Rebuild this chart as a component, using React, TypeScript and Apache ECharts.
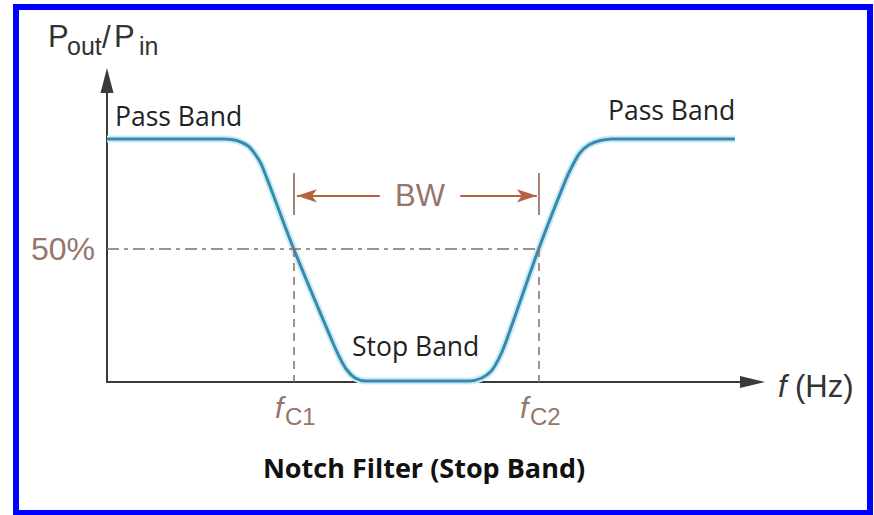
import React, { useEffect, useRef } from 'react';
import * as echarts from 'echarts';

// Response curve (frequency in arbitrary units, Pout/Pin in %)
const curveX = [0, 18.6, 20.5, 22.3, 23.5, 24.5, 29.5, 35.5, 36.8, 37.9, 39.2, 40.8, 57.3, 59.2, 60.7, 61.8, 62.9, 68.2, 72.4, 73.5, 74.7, 76.1, 77.9, 79.8, 99.2];
const curveY = [91.4, 91.4, 90.8, 88.7, 85.3, 81.2, 50, 15.8, 9.0, 4.5, 1.5, 0.4, 0.4, 1.5, 4.1, 8.3, 14.3, 50, 75.6, 81.2, 86.1, 89.1, 90.8, 91.4, 91.4];

const fc1 = 29.5;
const fc2 = 68.2;
const halfLevel = 50;
const bwTick = [62.8, 78.6];
const bwArrowY = 70;
const bwLeftArrow = [43.1, 30.0];
const bwRightArrow = [55.8, 67.9];

const xRange = [0, 100];
const yRange = [0, 110];

const curveData = curveX.map((x, i) => [x, curveY[i]]);

const brownGray = '#8c6f62';
const arrowBrown = '#b3633f';
const labelBrown = '#94766a';

export default function App() {
  const ref = useRef<HTMLDivElement>(null);
  useEffect(() => {
    document.body.style.margin = '0';
    const chart = echarts.init(ref.current!, null, { renderer: 'svg' });
    const arial = 'Liberation Sans, Arial, sans-serif';
    const calibri = 'Open Sans, sans-serif';
    chart.setOption({
      animation: false,
      backgroundColor: '#ffffff',
      grid: { left: 107, right: 134, top: 89.4, bottom: 133 },
      xAxis: {
        type: 'value', min: xRange[0], max: xRange[1],
        axisLine: { show: true, symbol: ['none', 'triangle'], symbolSize: [12, 25], symbolOffset: [0, 12.5], lineStyle: { color: '#3a3a3a', width: 2 } },
        axisTick: { show: false }, axisLabel: { show: false }, splitLine: { show: false },
      },
      yAxis: {
        type: 'value', min: yRange[0], max: yRange[1],
        axisLine: { show: true, symbol: ['none', 'triangle'], symbolSize: [13, 25], symbolOffset: [0, 8.9], lineStyle: { color: '#3a3a3a', width: 2 } },
        axisTick: { show: false }, axisLabel: { show: false }, splitLine: { show: false },
      },
      series: [
        {
          type: 'line', data: [], silent: true,
          markLine: {
            silent: true, symbol: 'none', label: { show: false },
            data: [
              [{ coord: [xRange[0], halfLevel], lineStyle: { type: [12, 5, 4, 5], color: brownGray, width: 1.5 } }, { coord: [fc2, halfLevel] }],
              [{ coord: [fc1, halfLevel], lineStyle: { type: [8, 6], color: brownGray, width: 1.5 } }, { coord: [fc1, 0] }],
              [{ coord: [fc2, halfLevel], lineStyle: { type: [8, 6], color: brownGray, width: 1.5 } }, { coord: [fc2, 0] }],
              [{ coord: [fc1, bwTick[0]], lineStyle: { type: 'solid', color: '#8a5a48', width: 1.5 } }, { coord: [fc1, bwTick[1]] }],
              [{ coord: [fc2, bwTick[0]], lineStyle: { type: 'solid', color: '#8a5a48', width: 1.5 } }, { coord: [fc2, bwTick[1]] }],
            ],
          },
        },
        {
          type: 'line', data: [], silent: true,
          markLine: {
            silent: true, symbol: ['none', 'arrow'], symbolSize: [10, 20], label: { show: false },
            lineStyle: { type: 'solid', color: arrowBrown, width: 2 },
            data: [
              [{ coord: [bwLeftArrow[0], bwArrowY] }, { coord: [bwLeftArrow[1], bwArrowY] }],
              [{ coord: [bwRightArrow[0], bwArrowY] }, { coord: [bwRightArrow[1], bwArrowY] }],
            ],
          },
        },
        {
          type: 'line', data: curveData, showSymbol: false, silent: true, smooth: 0.3,
          lineStyle: { color: '#c9ecf8', width: 7 },
        },
        {
          type: 'line', data: curveData, showSymbol: false, silent: true, smooth: 0.3,
          lineStyle: { color: '#3a89ac', width: 3 },
        },
      ],
      graphic: [
        { type: 'rect', shape: { x: 16, y: 7, width: 854, height: 506 }, style: { fill: 'none', stroke: '#0000ff', lineWidth: 6 }, z: 100 },
        { type: 'text', x: 48, y: 36, style: { text: 'P', font: `31px ${arial}`, fill: '#333333', verticalAlign: 'middle' } },
        { type: 'text', x: 67, y: 46, style: { text: 'out', font: `25px ${arial}`, fill: '#333333', verticalAlign: 'middle' } },
        { type: 'text', x: 102, y: 37, style: { text: '/', font: `31px ${arial}`, fill: '#333333', verticalAlign: 'middle' } },
        { type: 'text', x: 114, y: 36, style: { text: 'P', font: `31px ${arial}`, fill: '#333333', verticalAlign: 'middle' } },
        { type: 'text', x: 139, y: 46, style: { text: 'in', font: `25px ${arial}`, fill: '#333333', verticalAlign: 'middle' } },
        { type: 'text', x: 115, y: 116, style: { text: 'Pass Band', font: `26.5px ${calibri}`, fill: '#222222', verticalAlign: 'middle' } },
        { type: 'text', x: 608, y: 110, style: { text: 'Pass Band', font: `26.5px ${calibri}`, fill: '#222222', verticalAlign: 'middle' } },
        { type: 'text', x: 352, y: 346, style: { text: 'Stop Band', font: `26.5px ${calibri}`, fill: '#222222', verticalAlign: 'middle' } },
        { type: 'text', x: 424, y: 467, style: { text: 'Notch Filter (Stop Band)', font: `bold 27px ${calibri}`, fill: '#111111', align: 'center', verticalAlign: 'middle' } },
        { type: 'text', x: 95, y: 249, style: { text: '50%', font: `32px ${arial}`, fill: labelBrown, align: 'right', verticalAlign: 'middle' } },
        { type: 'text', x: 420, y: 195, style: { text: 'BW', font: `31px ${arial}`, fill: labelBrown, align: 'center', verticalAlign: 'middle' } },
        { type: 'text', x: 275, y: 407, style: { text: 'f', font: `italic 30px ${arial}`, fill: labelBrown, verticalAlign: 'middle' } },
        { type: 'text', x: 285, y: 416, style: { text: 'C1', font: `24px ${arial}`, fill: labelBrown, verticalAlign: 'middle' } },
        { type: 'text', x: 520, y: 407, style: { text: 'f', font: `italic 30px ${arial}`, fill: labelBrown, verticalAlign: 'middle' } },
        { type: 'text', x: 530, y: 416, style: { text: 'C2', font: `24px ${arial}`, fill: labelBrown, verticalAlign: 'middle' } },
        { type: 'text', x: 778, y: 386, style: { text: 'f', font: `italic 31px ${arial}`, fill: '#333333', verticalAlign: 'middle' } },
        { type: 'text', x: 795, y: 386, style: { text: '(Hz)', font: `31px ${arial}`, fill: '#333333', verticalAlign: 'middle' } },
      ],
    });
    return () => chart.dispose();
  }, []);
  return <div ref={ref} style={{ width: 874, height: 515 }} />;
}
